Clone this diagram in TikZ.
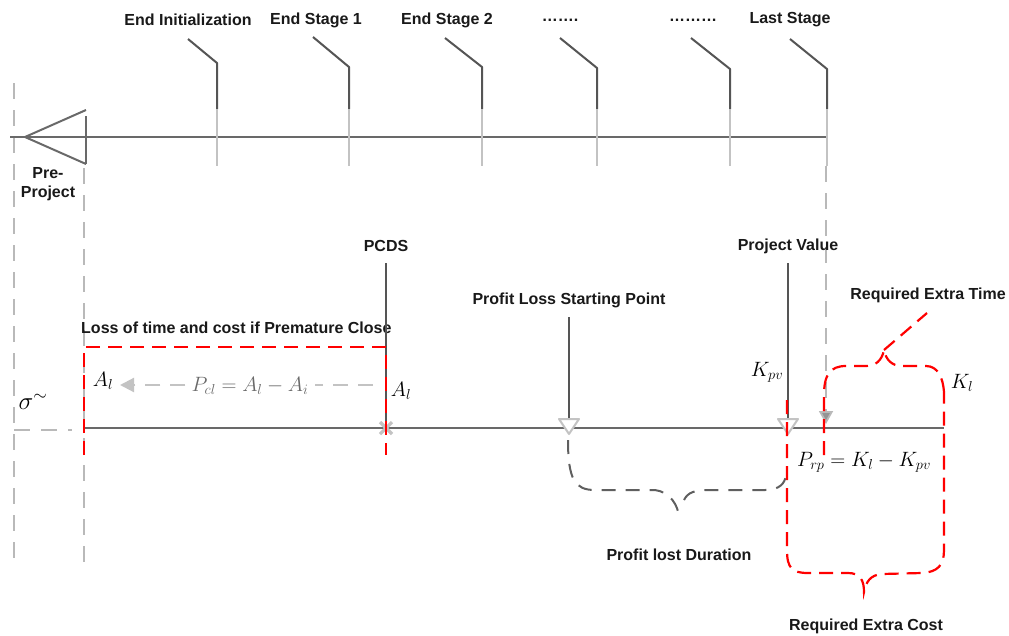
\documentclass[tikz,border=0pt]{standalone}
\usepackage{fontspec}
\setmainfont{Liberation Sans}
\usetikzlibrary{arrows.meta}

\definecolor{axisgray}{RGB}{105,105,105}
\definecolor{tickdark}{RGB}{85,85,85}
\definecolor{ticklight}{RGB}{195,195,195}
\definecolor{guidegray}{RGB}{185,185,185}
\definecolor{bracegray}{RGB}{95,95,95}
\definecolor{markred}{RGB}{255,0,0}

\tikzset{
  lbl/.style={font=\bfseries\fontsize{16}{18}\selectfont, inner sep=0pt, text=black!90},
  mathlbl/.style={font=\fontsize{20}{24}\selectfont, inner sep=0pt},
  axisline/.style={axisgray, line width=2pt},
  darktick/.style={tickdark, line width=2pt, line join=round},
  lighttick/.style={ticklight, line width=2pt},
  guide/.style={guidegray, line width=1.8pt, dash pattern=on 16pt off 11pt},
  reddash/.style={markred, line width=2.2pt, dash pattern=on 14pt off 8pt},
  greybrace/.style={bracegray, line width=2pt, dash pattern=on 14pt off 10pt},
  paledash/.style={ticklight, line width=2.2pt, dash pattern=on 15pt off 10pt},
  opentri/.style={ticklight, fill=white, line width=2pt, line join=round}
}

\begin{document}
\begin{tikzpicture}[x=1pt,y=-1pt]
\useasboundingbox (0,0) rectangle (1009,635);

% guide lines
\draw[guide] (14,83) -- (14,565);
\draw[guide] (84,168) -- (84,565);
\draw[guide] (14,430) -- (72,430);

% stage labels
\node[lbl] (endinit) at (188,20) {End Initialization};
\node[lbl] (endone) at (316,20) {End Stage 1};
\node[lbl] (endtwo) at (447,20) {End Stage 2};
\node[lbl] (dotsone) at (560,20) {…….};
\node[lbl] (dotstwo) at (693,20) {………};
\node[lbl] (laststage) at (790,20) {Last Stage};
\node[lbl, align=center] (preproj) at (48,184) {Pre-\\[1pt]Project};

% top time line
\draw[axisline] (10,137) -- (826,137);
\draw[axisline, line join=round] (86,110) -- (25,137) -- (86,164);
\draw[axisline] (86,116) -- (86,164);

\draw[darktick] (188,39) -- (217,63) -- (217,109);
\draw[lighttick] (217,109) -- (217,166);
\draw[darktick] (313,37) -- (349,67) -- (349,109);
\draw[lighttick] (349,109) -- (349,166);
\draw[darktick] (445,38) -- (482,67) -- (482,109);
\draw[lighttick] (482,109) -- (482,166);
\draw[darktick] (560,38) -- (597,68) -- (597,109);
\draw[lighttick] (597,109) -- (597,166);
\draw[darktick] (691,38) -- (730,69) -- (730,109);
\draw[lighttick] (730,109) -- (730,166);
\draw[darktick] (790,39) -- (827,69) -- (827,109);
\draw[lighttick] (827,109) -- (827,166);
\draw[guide, -{Triangle[width=14pt,length=13pt,fill=guidegray!80!black]}] (826,166) -- (826,424);

% bottom time line
\coordinate (start) at (84,428);
\coordinate (kl) at (944,428);
\draw[axisline] (start) -- (kl);

% premature close
\node[lbl] (pcds) at (386,246) {PCDS};
\node[lbl, anchor=west] (losslbl) at (81,328) {Loss of time and cost if Premature Close};
\coordinate (pcdstop) at (386,263);
\coordinate (pcdspt) at (386,428);
\draw[darktick] (pcdstop) -- (pcdspt);
\draw[ticklight, line width=3.2pt] (380,422) -- (392,434) (380,434) -- (392,422);
\draw[reddash] (84,455) -- (84,347) -- (386,347) -- (386,455);

\node[mathlbl] (alleft) at (103,381) {$A_l$};
\node[mathlbl] (alright) at (401,391) {$A_l$};
\node[mathlbl, text=axisgray, inner sep=6pt] (pcl) at (250,386) {$P_{cl} = A_l - A_i$};
\coordinate (pclstart) at (373,385);
\coordinate (pclend) at (120,385);
\draw[paledash] (pclstart) -- (pcl.east |- pclstart);
\draw[paledash, -{Triangle[width=14pt,length=14pt]}] (pcl.west |- pclend) -- (pclend);

\node[mathlbl, font=\fontsize{24}{28}\selectfont] (sigma) at (33,402) {$\sigma^{\sim}$};

% profit loss
\node[lbl] (plstart) at (569,300) {Profit Loss Starting Point};
\draw[darktick] (569,317) -- (569,419);
\draw[opentri] (559,419) -- (579,419) -- (569,434) -- cycle;
\draw[greybrace] (568,440) .. controls (568,480) and (575,490) .. (595,490) -- (655,490)
  .. controls (670,492) and (678,505) .. (679,517);
\draw[greybrace] (684,500) .. controls (688,492) and (695,490) .. (710,490) -- (765,490)
  .. controls (780,490) and (785,483) .. (786,475);
\node[lbl] (pldur) at (679,555) {Profit lost Duration};

% project value
\node[lbl] (projval) at (788,246) {Project Value};
\draw[darktick] (788,263) -- (788,419);
\draw[opentri] (778,419) -- (798,419) -- (788,434) -- cycle;
\node[mathlbl] (kpv) at (767,372) {$K_{pv}$};
\node[mathlbl] (klbl) at (962,383) {$K_l$};
\node[mathlbl] (prp) at (864,462) {$P_{rp} = K_l - K_{pv}$};

% required extra cost / time
\draw[reddash] (787,400) -- (787,550) .. controls (787,568) and (792,573) .. (808,573) -- (848,573)
  .. controls (860,573) and (864,580) .. (864,592) .. controls (866,582) and (870,575) .. (882,574)
  -- (922,573) .. controls (938,572) and (944,565) .. (944,550) -- (944,392);
\draw[reddash] (824,455) -- (824,395) .. controls (824,375) and (830,366) .. (846,366) -- (866,366)
  .. controls (876,366) and (882,360) .. (884,350) .. controls (886,360) and (892,366) .. (902,366)
  -- (926,366) .. controls (938,366) and (943,378) .. (944,392);
\node[lbl] (reqtime) at (928,295) {Required Extra Time};
\coordinate (leadend) at (927,313);
\draw[reddash] (884,350) -- (leadend);
\node[lbl] (reqcost) at (866,626) {Required Extra Cost};
\end{tikzpicture}
\end{document}
